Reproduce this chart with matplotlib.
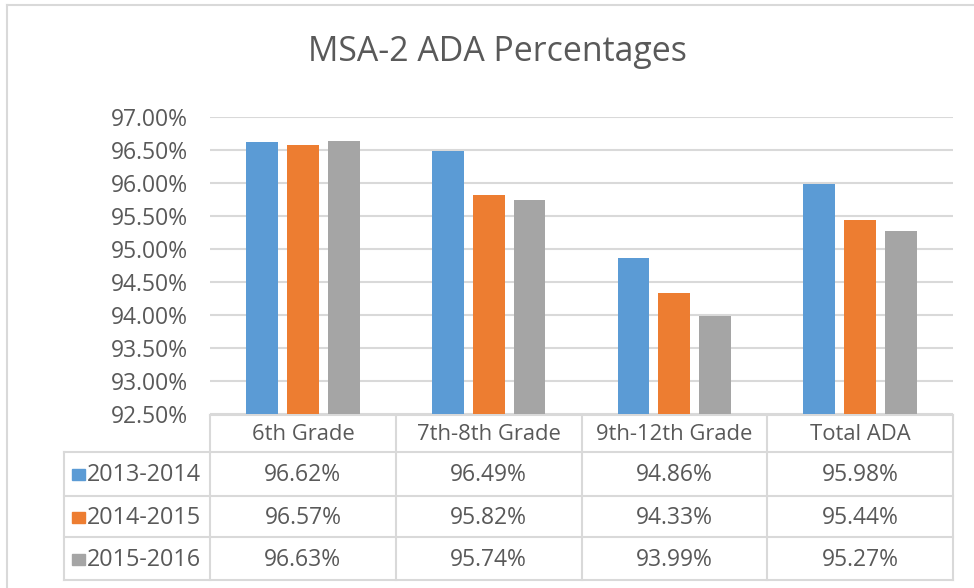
import matplotlib
matplotlib.use("Agg")
import matplotlib.pyplot as plt
import numpy as np

plt.rcParams['font.family'] = ['Open Sans', 'DejaVu Sans']

categories = ["6th Grade", "7th-8th Grade", "9th-12th Grade", "Total ADA"]
series_names = ["2013-2014", "2014-2015", "2015-2016"]
v_2013_2014 = [96.62, 96.49, 94.86, 95.98]
v_2014_2015 = [96.57, 95.82, 94.33, 95.44]
v_2015_2016 = [96.63, 95.74, 93.99, 95.27]
series_values = [v_2013_2014, v_2014_2015, v_2015_2016]
colors = ["#5b9bd5", "#ed7d31", "#a5a5a5"]
yticks = [92.5, 93.0, 93.5, 94.0, 94.5, 95.0, 95.5, 96.0, 96.5, 97.0]
title = "MSA-2 ADA Percentages"

W, H = 974, 588
fig = plt.figure(figsize=(W / 100, H / 100), dpi=100)

def fx(px):
    return px / W

def fy(py):
    return 1 - py / H

TXT = "#595959"
GRID = "#d9d9d9"

# overlay axes in pixel coordinates for frame and table
ov = fig.add_axes([0, 0, 1, 1])
ov.set_xlim(0, W)
ov.set_ylim(H, 0)
ov.axis("off")
ov.set_zorder(0)

# outer frame (top & left visible)
ov.plot([7, W + 5], [5, 5], color=GRID, lw=1.5)
ov.plot([7, 7], [5, H + 5], color=GRID, lw=1.5)

# main plot axes
L, R, T, B = 210, 953, 117, 414
ax = fig.add_axes([fx(L), fy(B), fx(R - L), (B - T) / H])
ax.set_zorder(1)
ax.patch.set_alpha(0)
x = np.arange(len(categories))
offs = [-0.22, 0.0, 0.22]
bw = 0.172
base = yticks[0]
for vals, c, o in zip(series_values, colors, offs):
    ax.bar(x + o, np.array(vals) - base, bottom=base, width=bw, color=c, zorder=3)
ax.set_xlim(-0.5, len(categories) - 0.5)
ax.set_ylim(yticks[0], yticks[-1])
ax.set_yticks(yticks)
ax.set_yticklabels([f"{t:.2f}%" for t in yticks], color=TXT, fontsize=16.5)
ax.tick_params(axis="y", length=0, pad=16)
ax.set_xticks([])
ax.grid(axis="y", color=GRID, lw=1.5, zorder=0)
for s in ax.spines.values():
    s.set_visible(False)

fig.text(fx(497), fy(52), title, ha="center", va="center", fontsize=24.4, color=TXT)

# table
colw = (R - L) / len(categories)
col_edges = [L + i * colw for i in range(len(categories) + 1)]
lab_left = 64
hdr_top, hdr_bot = 415, 452
row_edges = [452, 496, 537, 580]
lw = 1.5
ov.plot([L, R], [hdr_top, hdr_top], color=GRID, lw=lw)
for xe in col_edges:
    ov.plot([xe, xe], [hdr_top, row_edges[-1]], color=GRID, lw=lw)
for ye in row_edges:
    ov.plot([lab_left, R], [ye, ye], color=GRID, lw=lw)
ov.plot([lab_left, lab_left], [row_edges[0], row_edges[-1]], color=GRID, lw=lw)

for i, cat in enumerate(categories):
    cx = (col_edges[i] + col_edges[i + 1]) / 2
    ov.text(cx, (hdr_top + hdr_bot) / 2 + 1, cat, ha="center", va="center",
            fontsize=15.8, color=TXT)

for r, (name, vals, c) in enumerate(zip(series_names, series_values, colors)):
    cy = (row_edges[r] + row_edges[r + 1]) / 2 + 1
    ov.add_patch(plt.Rectangle((72, cy - 6), 13, 11, color=c))
    ov.text(87, cy, name, ha="left", va="center", fontsize=16.8, color=TXT)
    for i, v in enumerate(vals):
        cx = (col_edges[i] + col_edges[i + 1]) / 2
        ov.text(cx, cy, f"{v:.2f}%", ha="center", va="center", fontsize=16.5, color=TXT)

fig.savefig("out.png", dpi=100)
